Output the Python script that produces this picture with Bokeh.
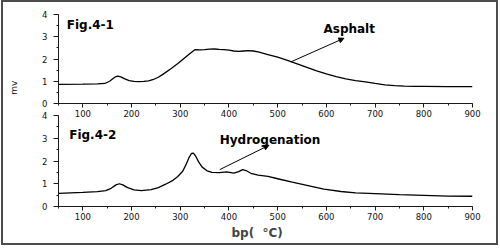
from bokeh.plotting import figure
from bokeh.layouts import column
from bokeh.models import Range1d, SingleIntervalTicker, Arrow, NormalHead
from bokeh.core.properties import value
from bokeh.embed import file_html
from bokeh.resources import INLINE

# ---- data ----
asphalt_bp = [50, 100, 130, 145, 155, 162, 168, 172, 178, 185, 195, 205, 215, 225, 235, 245,
              255, 265, 280, 295, 310, 320, 330, 340, 350, 360, 370, 380, 390, 400, 410, 420,
              430, 440, 450, 460, 480, 500, 520, 540, 560, 580, 600, 620, 640, 660, 680, 700,
              720, 740, 760, 780, 800, 850, 900]
asphalt_mv = [0.86, 0.87, 0.88, 0.90, 1.00, 1.12, 1.21, 1.23, 1.20, 1.12, 1.03, 0.99, 0.98, 0.99, 1.02, 1.08,
              1.18, 1.32, 1.55, 1.80, 2.07, 2.25, 2.42, 2.41, 2.42, 2.44, 2.45, 2.43, 2.42, 2.40, 2.36, 2.34,
              2.36, 2.38, 2.36, 2.32, 2.20, 2.08, 1.94, 1.78, 1.62, 1.47, 1.33, 1.21, 1.11, 1.03, 0.97, 0.90,
              0.84, 0.80, 0.78, 0.77, 0.77, 0.76, 0.76]

hydro_bp = [50, 100, 130, 147, 158, 168, 175, 182, 192, 205, 220, 240, 255, 270, 285, 295,
            305, 312, 318, 323, 327, 332, 338, 345, 355, 365, 380, 395, 410, 420, 428, 435,
            445, 460, 480, 500, 530, 560, 595, 630, 660, 700, 750, 800, 850, 900]
hydro_mv = [0.58, 0.62, 0.65, 0.70, 0.80, 0.95, 1.00, 0.95, 0.83, 0.73, 0.70, 0.74, 0.83, 0.98, 1.15, 1.32,
            1.55, 1.85, 2.15, 2.33, 2.35, 2.20, 1.95, 1.73, 1.57, 1.50, 1.49, 1.52, 1.47, 1.53, 1.62, 1.58,
            1.46, 1.38, 1.32, 1.22, 1.07, 0.93, 0.76, 0.66, 0.60, 0.57, 0.52, 0.49, 0.46, 0.45]

x_ticks_interval = 100
y_ticks_interval = 1

BOLD_FONT = value("DejaVu Sans")
NBSP = "\u00a0"


def style(p):
    p.xgrid.visible = False
    p.ygrid.visible = False
    p.outline_line_color = None
    for ax in (p.xaxis[0], p.yaxis[0]):
        ax.axis_line_color = "#1a1a1a"
        ax.major_tick_line_color = "#1a1a1a"
        ax.minor_tick_line_color = "#1a1a1a"
        ax.major_tick_in = 0
        ax.minor_tick_in = 0
        ax.minor_tick_out = 2
        ax.major_label_text_font = "DejaVu Sans"
        ax.major_label_text_font_size = "8.5px"
        ax.major_label_text_color = "#111111"
    p.xaxis[0].ticker = SingleIntervalTicker(interval=x_ticks_interval, num_minor_ticks=2)
    p.yaxis[0].ticker = SingleIntervalTicker(interval=y_ticks_interval, num_minor_ticks=2)
    p.xaxis[0].major_tick_out = 4
    p.xaxis[0].major_label_standoff = 2
    p.yaxis[0].major_tick_out = 5
    p.yaxis[0].major_label_standoff = 6


p1 = figure(width=493, height=117, x_range=Range1d(50, 900), y_range=Range1d(0, 4),
            output_backend="svg", toolbar_location=None,
            min_border_left=55, min_border_right=24, min_border_top=12, min_border_bottom=16)
style(p1)
p1.line(asphalt_bp, asphalt_mv, line_color="black", line_width=1.3)
p1.text(x=[67], y=[3.55], text=["Fig.4-1"], text_font=BOLD_FONT, text_font_style="bold",
        text_font_size="12px", text_baseline="middle", text_align="left", text_color="black")
p1.text(x=[594], y=[3.36], text=["Asphalt"], text_font=BOLD_FONT, text_font_style="bold",
        text_font_size="12px", text_baseline="middle", text_align="left", text_color="black")
p1.add_layout(Arrow(end=NormalHead(size=5, fill_color="black", line_color="black"),
                    x_start=527, y_start=1.87, x_end=636, y_end=2.93,
                    line_color="black", line_width=1))
# y-axis title "mv", shifted down toward the middle of the page as in the original
p1.yaxis[0].axis_label = "mv" + NBSP * 20
p1.yaxis[0].axis_label_text_font = "DejaVu Sans"
p1.yaxis[0].axis_label_text_font_style = "normal"
p1.yaxis[0].axis_label_text_font_size = "9px"
p1.yaxis[0].axis_label_text_color = "#111111"
p1.yaxis[0].axis_label_standoff = 20

p2 = figure(width=493, height=134, x_range=Range1d(50, 900), y_range=Range1d(0, 4),
            output_backend="svg", toolbar_location=None,
            min_border_left=55, min_border_right=24, min_border_top=6, min_border_bottom=37,
            margin=(-10, 0, 0, 0))
p2.background_fill_alpha = 0
p2.border_fill_alpha = 0
style(p2)
p2.line(hydro_bp, hydro_mv, line_color="black", line_width=1.3)
p2.text(x=[72], y=[3.13], text=["Fig.4-2"], text_font=BOLD_FONT, text_font_style="bold",
        text_font_size="12px", text_baseline="middle", text_align="left", text_color="black")
p2.text(x=[381], y=[2.91], text=["Hydrogenation"], text_font=BOLD_FONT, text_font_style="bold",
        text_font_size="12px", text_baseline="middle", text_align="left", text_color="black")
p2.add_layout(Arrow(end=NormalHead(size=5, fill_color="black", line_color="black"),
                    x_start=381, y_start=1.62, x_end=482, y_end=2.69,
                    line_color="black", line_width=1))
p2.xaxis[0].axis_label = "bp(" + NBSP * 2 + "\u00b0C)" + NBSP * 4
p2.xaxis[0].axis_label_text_font = "DejaVu Sans"
p2.xaxis[0].axis_label_text_font_style = "bold"
p2.xaxis[0].axis_label_text_font_size = "12px"
p2.xaxis[0].axis_label_standoff = 3

layout = column(p1, p2, spacing=0, styles={"border": "2px solid #4d4d4d", "margin-left": "1px"})

open("out.html", "w").write(file_html(layout, INLINE))
